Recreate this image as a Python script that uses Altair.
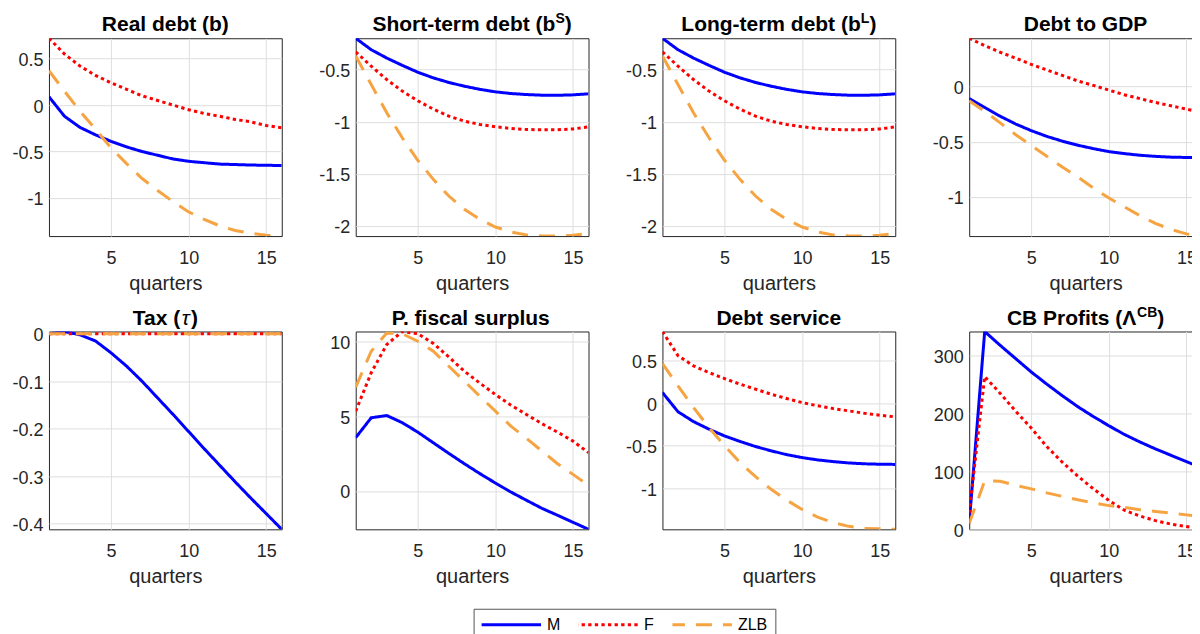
import altair as alt
import pandas as pd

QUARTERS = list(range(1, 17))
SERIES = ["M", "F", "ZLB"]
COLORS = ["#0000FF", "#FF0000", "#F6A442"]
DASHES = [[1, 0], [3.3, 3.3], [16, 11]]
X_TICKS = [5, 10, 15]

# Real debt (b)
real_m = [0.09, -0.12, -0.24, -0.32, -0.39, -0.45, -0.50, -0.54, -0.58, -0.605, -0.62, -0.635, -0.64, -0.645, -0.648, -0.65]
real_f = [0.72, 0.55, 0.42, 0.32, 0.24, 0.17, 0.10, 0.05, 0.0, -0.05, -0.09, -0.12, -0.155, -0.18, -0.22, -0.245]
real_zlb = [0.37, 0.15, -0.065, -0.26, -0.46, -0.63, -0.79, -0.92, -1.04, -1.15, -1.23, -1.30, -1.35, -1.38, -1.40, -1.41]
real_ticks = [-1, -0.5, 0, 0.5]

# Short-term debt (b^S)
st_m = [-0.2, -0.31, -0.39, -0.46, -0.526, -0.58, -0.624, -0.66, -0.69, -0.714, -0.73, -0.74, -0.746, -0.747, -0.743, -0.733]
st_f = [-0.33, -0.468, -0.596, -0.707, -0.80, -0.88, -0.947, -0.995, -1.027, -1.049, -1.065, -1.075, -1.078, -1.078, -1.07, -1.05]
st_zlb = [-0.37, -0.644, -0.915, -1.154, -1.37, -1.553, -1.713, -1.84, -1.936, -2.01, -2.057, -2.086, -2.097, -2.097, -2.09, -2.07]
st_ticks = [-2, -1.5, -1, -0.5]

# Long-term debt (b^L) -- drawn identical to the short-term panel
lt_m = [-0.2, -0.31, -0.39, -0.46, -0.526, -0.58, -0.624, -0.66, -0.69, -0.714, -0.73, -0.74, -0.746, -0.747, -0.743, -0.733]
lt_f = [-0.33, -0.468, -0.596, -0.707, -0.80, -0.88, -0.947, -0.995, -1.027, -1.049, -1.065, -1.075, -1.078, -1.078, -1.07, -1.05]
lt_zlb = [-0.37, -0.644, -0.915, -1.154, -1.37, -1.553, -1.713, -1.84, -1.936, -2.01, -2.057, -2.086, -2.097, -2.097, -2.09, -2.07]
lt_ticks = [-2, -1.5, -1, -0.5]

# Debt to GDP
gdp_m = [-0.11, -0.19, -0.27, -0.34, -0.40, -0.452, -0.495, -0.532, -0.563, -0.59, -0.608, -0.623, -0.633, -0.64, -0.643, -0.645]
gdp_f = [0.437, 0.37, 0.31, 0.256, 0.20, 0.15, 0.10, 0.05, 0.01, -0.033, -0.075, -0.11, -0.145, -0.175, -0.205, -0.235]
gdp_zlb = [-0.13, -0.226, -0.33, -0.437, -0.536, -0.632, -0.73, -0.82, -0.92, -1.01, -1.09, -1.17, -1.24, -1.295, -1.335, -1.355]
gdp_ticks = [-1, -0.5, 0]

# Tax (tau)
tax_m = [0.0, 0.005, -0.002, -0.015, -0.04, -0.068, -0.1, -0.135, -0.17, -0.206, -0.242, -0.277, -0.312, -0.346, -0.379, -0.412]
tax_f = [0.0, 0.0, 0.0, 0.0, 0.0, 0.0, 0.0, 0.0, 0.0, 0.0, 0.0, 0.0, 0.0, 0.0, 0.0, 0.0]
tax_zlb = [0.0, 0.0, 0.0, 0.0, 0.0, 0.0, 0.0, 0.0, 0.0, 0.0, 0.0, 0.0, 0.0, 0.0, 0.0, 0.0]
tax_ticks = [-0.4, -0.3, -0.2, -0.1, 0]

# P. fiscal surplus
ps_m = [3.56, 4.89, 5.04, 4.56, 3.93, 3.22, 2.51, 1.82, 1.16, 0.53, -0.07, -0.62, -1.16, -1.62, -2.09, -2.56]
ps_f = [5.33, 7.9, 9.78, 10.65, 10.5, 9.85, 8.95, 8.0, 7.2, 6.44, 5.73, 5.11, 4.49, 3.93, 3.33, 2.56]
ps_zlb = [6.93, 9.33, 10.55, 10.5, 10.0, 9.33, 8.33, 7.33, 6.33, 5.33, 4.33, 3.51, 2.67, 1.82, 1.11, 0.38]
ps_ticks = [0, 5, 10]

# Debt service
ds_m = [0.126, -0.10, -0.216, -0.306, -0.385, -0.45, -0.51, -0.56, -0.605, -0.64, -0.667, -0.687, -0.703, -0.713, -0.718, -0.72]
ds_f = [0.844, 0.56, 0.44, 0.36, 0.29, 0.224, 0.165, 0.106, 0.055, 0.008, -0.03, -0.063, -0.09, -0.118, -0.141, -0.161]
ds_zlb = [0.467, 0.204, -0.05, -0.287, -0.50, -0.70, -0.864, -1.013, -1.14, -1.25, -1.34, -1.405, -1.449, -1.474, -1.478, -1.484]
ds_ticks = [-1, -0.5, 0, 0.5]

# CB Profits (Lambda^CB)
cb_m = [10, 342, 318, 295, 272, 251, 231, 212, 195, 179, 164, 151, 139, 128, 117, 106]
cb_f = [28, 264, 235, 204, 175, 143, 116, 92, 70, 50, 33, 23, 15, 9, 5, 0]
cb_zlb = [10, 84, 83, 76, 70, 63, 57, 51, 46, 41, 38, 34, 31, 28, 25, 22]
cb_ticks = [0, 100, 200, 300]

FONT = "Liberation Sans"
W, H = 233, 198
TITLE_SIZE, SUP_SIZE = 21, 14

# rough Arial Bold advance widths (1/1000 em), used to centre split titles
BOLD_W = {
    " ": 278, "(": 333, ")": 333, "-": 333, ".": 278,
    "a": 556, "b": 611, "c": 556, "d": 611, "e": 556, "f": 333, "g": 611,
    "h": 611, "i": 278, "l": 278, "m": 889, "n": 611, "o": 611, "p": 611,
    "r": 389, "s": 556, "t": 333, "u": 611, "v": 556, "x": 556,
    "B": 722, "C": 722, "D": 722, "G": 778, "L": 611, "P": 667, "R": 722,
    "S": 667, "T": 611, "\u039b": 700, "\u03c4": 440,
}


def seg_width(text, kind):
    size = SUP_SIZE if kind == "sup" else TITLE_SIZE
    return sum(BOLD_W.get(ch, 600) for ch in text) / 1000 * size


def title_layers(segments):
    widths = [seg_width(t, k) for t, k in segments]
    x = W / 2 - sum(widths) / 2
    layers = []
    for (text, kind), w in zip(segments, widths):
        layers.append(
            alt.Chart(pd.DataFrame({"t": [text]}))
            .mark_text(
                align="left",
                baseline="alphabetic",
                font=FONT,
                fontSize=SUP_SIZE if kind == "sup" else TITLE_SIZE,
                fontWeight="normal" if kind == "ital" else "bold",
                fontStyle="italic" if kind == "ital" else "normal",
                color="black",
            )
            .encode(text="t:N", x=alt.value(x), y=alt.value(-15 if kind == "sup" else -7))
        )
        x += w
    return layers


legend = alt.Legend(
    title=None,
    orient="none",
    legendX=425,
    legendY=571,
    direction="horizontal",
    symbolType="M-4.5,0H4.5",
    symbolSize=196,
    symbolStrokeWidth=3,
    symbolOffset=19.5,
    labelOffset=29,
    columnPadding=18,
    clipHeight=16,
    labelFont=FONT,
    labelFontSize=16,
    labelColor="black",
    fillColor="white",
    strokeColor="#555555",
    padding=8,
)


def panel(m, f, zlb, ticks, segments):
    df = pd.DataFrame(
        {
            "q": QUARTERS * 3,
            "v": m + f + zlb,
            "s": ["M"] * 16 + ["F"] * 16 + ["ZLB"] * 16,
        }
    )
    lo, hi = min(df["v"]), max(df["v"])
    lines = (
        alt.Chart(df)
        .mark_line(strokeWidth=3, clip=True)
        .encode(
            x=alt.X(
                "q:Q",
                scale=alt.Scale(domain=[1, 16], nice=False, zero=False),
                axis=alt.Axis(values=X_TICKS, title="quarters", format="d"),
            ),
            y=alt.Y(
                "v:Q",
                scale=alt.Scale(domain=[lo, hi], nice=False, zero=False),
                axis=alt.Axis(
                    values=ticks,
                    title=None,
                    labelExpr="datum.value < 0 ? '-' + format(-datum.value, '~g') : format(datum.value, '~g')",
                    labelPadding=6,
                    labelOffset=2,
                ),
            ),
            color=alt.Color("s:N", scale=alt.Scale(domain=SERIES, range=COLORS), legend=legend),
            strokeDash=alt.StrokeDash("s:N", scale=alt.Scale(domain=SERIES, range=DASHES), legend=legend),
        )
    )
    return alt.layer(lines, *title_layers(segments)).properties(width=W, height=H)


panels = [
    panel(real_m, real_f, real_zlb, real_ticks, [("Real debt (b)", "main")]),
    panel(st_m, st_f, st_zlb, st_ticks, [("Short-term debt (b", "main"), ("S", "sup"), (")", "main")]),
    panel(lt_m, lt_f, lt_zlb, lt_ticks, [("Long-term debt (b", "main"), ("L", "sup"), (")", "main")]),
    panel(gdp_m, gdp_f, gdp_zlb, gdp_ticks, [("Debt to GDP", "main")]),
    panel(tax_m, tax_f, tax_zlb, tax_ticks, [("Tax (", "main"), ("\u03c4", "ital"), (")", "main")]),
    panel(ps_m, ps_f, ps_zlb, ps_ticks, [("P. fiscal surplus", "main")]),
    panel(ds_m, ds_f, ds_zlb, ds_ticks, [("Debt service", "main")]),
    panel(cb_m, cb_f, cb_zlb, cb_ticks, [("CB Profits (\u039b", "main"), ("CB", "sup"), (")", "main")]),
]

# the last column runs off the right edge in the original figure; the
# negative right padding trims it so the page does not overflow
chart = (
    alt.concat(*panels, columns=4, spacing={"row": 95.5, "column": 74}, bounds="flush")
    .resolve_scale(color="shared", strokeDash="shared")
    .properties(padding={"left": 3, "top": 3, "right": -11, "bottom": 0})
    .configure_view(stroke="#262626", strokeWidth=1)
    .configure_axis(
        grid=True,
        gridColor="#dedede",
        domain=False,
        ticks=False,
        labelFont=FONT,
        labelFontSize=18,
        labelColor="#262626",
        titleFont=FONT,
        titleFontSize=20,
        titleFontWeight="normal",
        titleColor="#262626",
        titlePadding=6,
    )
    .configure_axisX(labelPadding=13)
)

chart.save("out.html", embed_options={"renderer": "svg", "actions": False})
